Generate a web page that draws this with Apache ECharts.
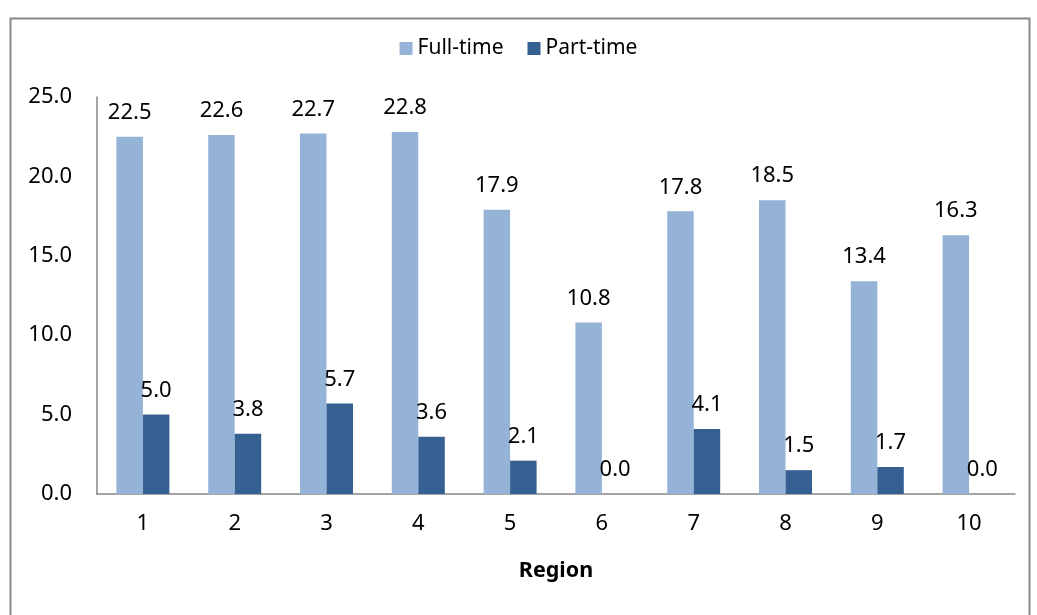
<!DOCTYPE html>
<html><head><meta charset="utf-8">
<script src="https://cdn.jsdelivr.net/npm/echarts@6/dist/echarts.min.js"></script>
<style>html,body{margin:0;padding:0;background:#fff}#c{width:1037px;height:615px}</style>
</head><body><div id="c"></div>
<script>
const categories = ['1','2','3','4','5','6','7','8','9','10'];
const fullTime = [22.5, 22.6, 22.7, 22.8, 17.9, 10.8, 17.8, 18.5, 13.4, 16.3];
const partTime = [5.0, 3.8, 5.7, 3.6, 2.1, 0.0, 4.1, 1.5, 1.7, 0.0];
const seriesNames = ['Full-time', 'Part-time'];
const xAxisTitle = 'Region';

const FONT = '"Noto Sans", "Open Sans", sans-serif';
const chart = echarts.init(document.getElementById('c'), null, {renderer: 'canvas'});
const lbl = {show: true, position: 'top', distance: 13, color: '#000', fontSize: 22, fontFamily: FONT,
  formatter: p => p.value.toFixed(1)};
chart.setOption({
  animation: false,
  textStyle: {fontFamily: FONT},
  graphic: [{type: 'rect', shape: {x: 10.5, y: 18.5, width: 1019, height: 620},
    style: {fill: 'none', stroke: '#888', lineWidth: 2}, silent: true}],
  legend: {top: 33, left: 'center', itemWidth: 13, itemHeight: 13, itemGap: 24,
    textStyle: {fontSize: 21, color: '#000', fontFamily: FONT}, icon: 'rect',
    data: seriesNames},
  grid: {left: 97, right: 22, top: 97, bottom: 121, containLabel: false},
  xAxis: {type: 'category', data: categories,
    axisLine: {lineStyle: {color: '#868686', width: 1.5}}, axisTick: {show: false},
    axisLabel: {color: '#000', fontSize: 22, margin: 19, fontFamily: FONT},
    name: xAxisTitle, nameLocation: 'middle', nameGap: 66,
    nameTextStyle: {fontSize: 21.5, fontWeight: 'bold', color: '#000', fontFamily: FONT}},
  yAxis: {type: 'value', min: 0, max: 25, interval: 5,
    axisLine: {show: true, lineStyle: {color: '#868686', width: 1.5}}, axisTick: {show: false},
    splitLine: {show: false},
    axisLabel: {color: '#000', fontSize: 22, margin: 25, fontFamily: FONT, formatter: v => v.toFixed(1)}},
  series: [
    {name: seriesNames[0], type: 'bar', data: fullTime, barWidth: 26.5, barGap: '0%',
      itemStyle: {color: '#95B3D7'}, label: lbl},
    {name: seriesNames[1], type: 'bar', data: partTime, barWidth: 26.5, barGap: '0%',
      itemStyle: {color: '#376092'}, label: lbl}
  ]
});
</script></body></html>
